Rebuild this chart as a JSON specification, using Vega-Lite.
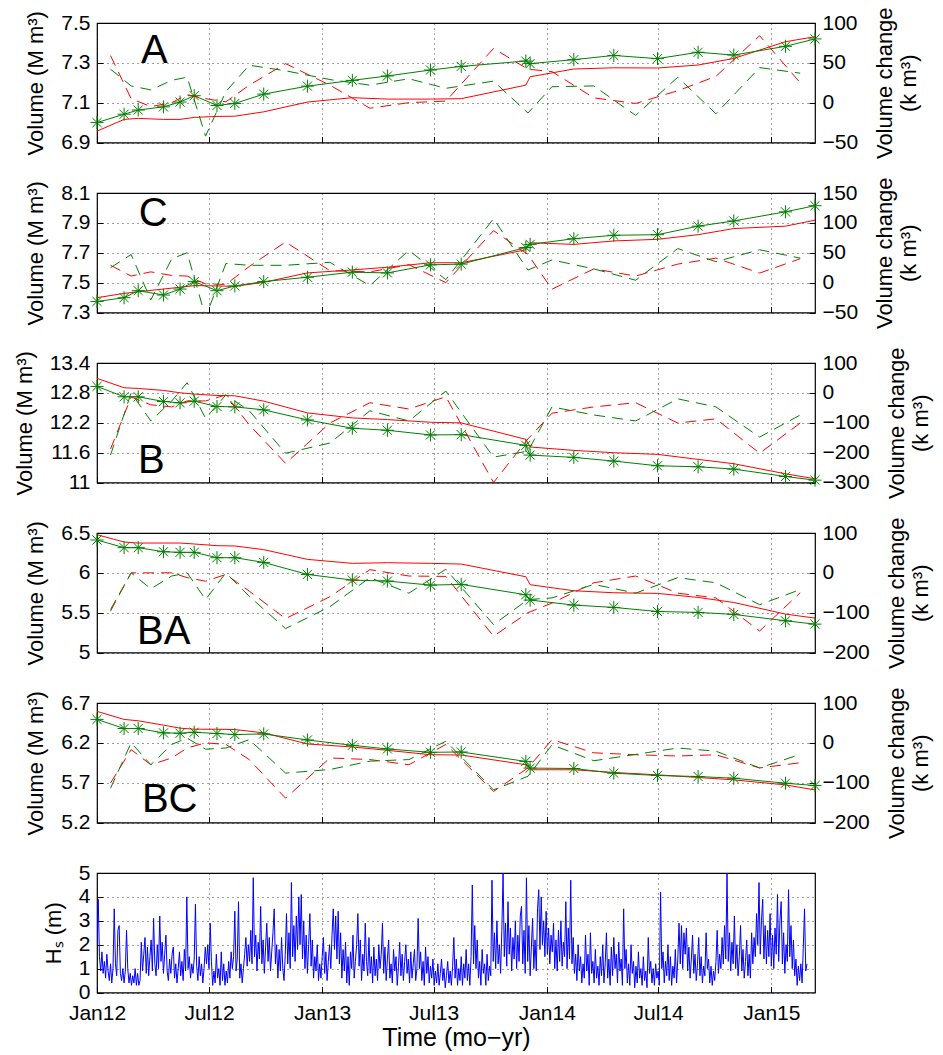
{
"$schema":"https://vega.github.io/schema/vega-lite/v6.json",
"background":"white",
"padding":{"left":12,"top":6,"right":5,"bottom":5},
"config":{"font":"Liberation Sans","view":{"stroke":"#000","strokeWidth":1.2},
"axis":{"labelFont":"Liberation Sans","titleFont":"Liberation Sans","labelFontSize":21,"titleFontSize":22,"titleFontWeight":"normal","labelColor":"#000","titleColor":"#000","ticks":true,"tickSize":-6,"tickColor":"#000","tickWidth":1,"domain":false,"gridDash":[1,4],"gridColor":"#000","gridOpacity":0.75,"labelPadding":13,"titlePadding":13,"labelFlush":false,"labelOverlap":false,"tickCount":20}},
"datasets":{
"vol":[
{"p":"A","day":0,"g":7.000,"r":6.957},{"p":"A","day":44,"g":7.042,"r":7.016},{"p":"A","day":67,"g":7.063,"r":7.021},{"p":"A","day":108,"g":7.079,"r":7.016},{"p":"A","day":135,"g":7.103,"r":7.016},{"p":"A","day":158,"g":7.135,"r":7.026},{"p":"A","day":195,"g":7.086,"r":7.031},{"p":"A","day":224,"g":7.096,"r":7.032},{"p":"A","day":271,"g":7.143,"r":7.054},{"p":"A","day":342,"g":7.183,"r":7.103},{"p":"A","day":415,"g":7.212,"r":7.125},{"p":"A","day":472,"g":7.234,"r":7.118},{"p":"A","day":542,"g":7.264,"r":7.118},{"p":"A","day":592,"g":7.282,"r":7.120},{"p":"A","day":697,"g":7.309,"r":7.188},{"p":"A","day":704,"g":7.296,"r":7.230},{"p":"A","day":775,"g":7.316,"r":7.269},{"p":"A","day":840,"g":7.337,"r":7.275},{"p":"A","day":911,"g":7.321,"r":7.274},{"p":"A","day":977,"g":7.353,"r":7.289},{"p":"A","day":1035,"g":7.339,"r":7.322},{"p":"A","day":1119,"g":7.383,"r":7.406},{"p":"A","day":1167,"g":7.420,"r":7.431},
{"p":"C","day":0,"g":7.374,"r":7.399},{"p":"C","day":44,"g":7.399,"r":7.428},{"p":"C","day":67,"g":7.446,"r":7.439},{"p":"C","day":108,"g":7.417,"r":7.457},{"p":"C","day":135,"g":7.457,"r":7.469},{"p":"C","day":158,"g":7.507,"r":7.480},{"p":"C","day":195,"g":7.446,"r":7.478},{"p":"C","day":224,"g":7.478,"r":7.475},{"p":"C","day":271,"g":7.507,"r":7.502},{"p":"C","day":342,"g":7.536,"r":7.565},{"p":"C","day":415,"g":7.570,"r":7.585},{"p":"C","day":472,"g":7.565,"r":7.603},{"p":"C","day":542,"g":7.619,"r":7.633},{"p":"C","day":592,"g":7.624,"r":7.633},{"p":"C","day":697,"g":7.735,"r":7.720},{"p":"C","day":704,"g":7.756,"r":7.767},{"p":"C","day":775,"g":7.794,"r":7.756},{"p":"C","day":840,"g":7.817,"r":7.779},{"p":"C","day":911,"g":7.821,"r":7.790},{"p":"C","day":977,"g":7.878,"r":7.821},{"p":"C","day":1035,"g":7.913,"r":7.862},{"p":"C","day":1119,"g":7.974,"r":7.878},{"p":"C","day":1167,"g":8.015,"r":7.918},
{"p":"B","day":0,"g":12.929,"r":13.091},{"p":"B","day":44,"g":12.721,"r":12.903},{"p":"B","day":67,"g":12.721,"r":12.889},{"p":"B","day":108,"g":12.627,"r":12.849},{"p":"B","day":135,"g":12.600,"r":12.802},{"p":"B","day":158,"g":12.634,"r":12.775},{"p":"B","day":195,"g":12.526,"r":12.748},{"p":"B","day":224,"g":12.519,"r":12.741},{"p":"B","day":271,"g":12.459,"r":12.634},{"p":"B","day":342,"g":12.257,"r":12.398},{"p":"B","day":415,"g":12.089,"r":12.297},{"p":"B","day":472,"g":12.049,"r":12.264},{"p":"B","day":542,"g":11.955,"r":12.210},{"p":"B","day":592,"g":11.961,"r":12.197},{"p":"B","day":697,"g":11.746,"r":11.867},{"p":"B","day":704,"g":11.551,"r":11.713},{"p":"B","day":775,"g":11.504,"r":11.645},{"p":"B","day":840,"g":11.430,"r":11.598},{"p":"B","day":911,"g":11.336,"r":11.565},{"p":"B","day":977,"g":11.316,"r":11.464},{"p":"B","day":1035,"g":11.269,"r":11.377},{"p":"B","day":1119,"g":11.121,"r":11.175},{"p":"B","day":1167,"g":11.047,"r":11.074},
{"p":"BA","day":0,"g":6.412,"r":6.479},{"p":"BA","day":44,"g":6.316,"r":6.387},{"p":"BA","day":67,"g":6.316,"r":6.374},{"p":"BA","day":108,"g":6.265,"r":6.374},{"p":"BA","day":135,"g":6.257,"r":6.374},{"p":"BA","day":158,"g":6.257,"r":6.362},{"p":"BA","day":195,"g":6.190,"r":6.341},{"p":"BA","day":224,"g":6.190,"r":6.337},{"p":"BA","day":271,"g":6.131,"r":6.291},{"p":"BA","day":342,"g":5.980,"r":6.169},{"p":"BA","day":415,"g":5.909,"r":6.119},{"p":"BA","day":472,"g":5.897,"r":6.127},{"p":"BA","day":542,"g":5.846,"r":6.119},{"p":"BA","day":592,"g":5.855,"r":6.110},{"p":"BA","day":697,"g":5.725,"r":5.951},{"p":"BA","day":704,"g":5.658,"r":5.851},{"p":"BA","day":775,"g":5.595,"r":5.775},{"p":"BA","day":840,"g":5.566,"r":5.750},{"p":"BA","day":911,"g":5.515,"r":5.742},{"p":"BA","day":977,"g":5.503,"r":5.691},{"p":"BA","day":1035,"g":5.478,"r":5.628},{"p":"BA","day":1119,"g":5.398,"r":5.482},{"p":"BA","day":1167,"g":5.356,"r":5.432},
{"p":"BC","day":0,"g":6.494,"r":6.595},{"p":"BC","day":44,"g":6.380,"r":6.494},{"p":"BC","day":67,"g":6.380,"r":6.477},{"p":"BC","day":108,"g":6.325,"r":6.422},{"p":"BC","day":135,"g":6.321,"r":6.384},{"p":"BC","day":158,"g":6.333,"r":6.371},{"p":"BC","day":195,"g":6.317,"r":6.371},{"p":"BC","day":224,"g":6.304,"r":6.367},{"p":"BC","day":271,"g":6.312,"r":6.325},{"p":"BC","day":342,"g":6.236,"r":6.186},{"p":"BC","day":415,"g":6.169,"r":6.148},{"p":"BC","day":472,"g":6.123,"r":6.106},{"p":"BC","day":542,"g":6.081,"r":6.051},{"p":"BC","day":592,"g":6.085,"r":6.047},{"p":"BC","day":697,"g":5.967,"r":5.925},{"p":"BC","day":704,"g":5.883,"r":5.862},{"p":"BC","day":775,"g":5.878,"r":5.862},{"p":"BC","day":840,"g":5.819,"r":5.828},{"p":"BC","day":911,"g":5.790,"r":5.798},{"p":"BC","day":977,"g":5.777,"r":5.765},{"p":"BC","day":1035,"g":5.756,"r":5.735},{"p":"BC","day":1119,"g":5.693,"r":5.672},{"p":"BC","day":1167,"g":5.664,"r":5.609}
],
"chg":[
{"p":"A","day":22,"g":42,"r":59},{"p":"A","day":55.5,"g":21,"r":5},{"p":"A","day":87.5,"g":16,"r":-5},{"p":"A","day":121.5,"g":28,"r":0},{"p":"A","day":146.5,"g":32,"r":10},{"p":"A","day":176.5,"g":-42,"r":5},{"p":"A","day":209.5,"g":14,"r":1},{"p":"A","day":247.5,"g":47,"r":22},{"p":"A","day":306.5,"g":40,"r":49},{"p":"A","day":378.5,"g":29,"r":22},{"p":"A","day":443.5,"g":22,"r":-7},{"p":"A","day":507,"g":30,"r":0},{"p":"A","day":567,"g":18,"r":2},{"p":"A","day":644.5,"g":27,"r":68},{"p":"A","day":700.5,"g":-13,"r":42},{"p":"A","day":739.5,"g":20,"r":39},{"p":"A","day":807.5,"g":21,"r":6},{"p":"A","day":875.5,"g":-16,"r":-1},{"p":"A","day":944,"g":32,"r":15},{"p":"A","day":1006,"g":-14,"r":33},{"p":"A","day":1077,"g":44,"r":84},{"p":"A","day":1143,"g":37,"r":25},
{"p":"C","day":22,"g":25,"r":29},{"p":"C","day":55.5,"g":47,"r":11},{"p":"C","day":87.5,"g":-29,"r":18},{"p":"C","day":121.5,"g":40,"r":12},{"p":"C","day":146.5,"g":50,"r":11},{"p":"C","day":176.5,"g":-58,"r":-2},{"p":"C","day":209.5,"g":32,"r":-3},{"p":"C","day":247.5,"g":29,"r":27},{"p":"C","day":306.5,"g":29,"r":68},{"p":"C","day":378.5,"g":34,"r":20},{"p":"C","day":443.5,"g":-5,"r":18},{"p":"C","day":507,"g":54,"r":30},{"p":"C","day":567,"g":5,"r":0},{"p":"C","day":644.5,"g":107,"r":87},{"p":"C","day":700.5,"g":21,"r":47},{"p":"C","day":739.5,"g":38,"r":-11},{"p":"C","day":807.5,"g":23,"r":23},{"p":"C","day":875.5,"g":4,"r":11},{"p":"C","day":944,"g":57,"r":31},{"p":"C","day":1006,"g":35,"r":41},{"p":"C","day":1077,"g":55,"r":16},{"p":"C","day":1143,"g":41,"r":40},
{"p":"B","day":22,"g":-208,"r":-188},{"p":"B","day":55.5,"g":0,"r":-14},{"p":"B","day":87.5,"g":-94,"r":-40},{"p":"B","day":121.5,"g":-27,"r":-47},{"p":"B","day":146.5,"g":34,"r":-27},{"p":"B","day":176.5,"g":-85,"r":-27},{"p":"B","day":209.5,"g":-7,"r":-7},{"p":"B","day":247.5,"g":-60,"r":-107},{"p":"B","day":306.5,"g":-202,"r":-236},{"p":"B","day":378.5,"g":-168,"r":-101},{"p":"B","day":443.5,"g":-60,"r":-33},{"p":"B","day":507,"g":-94,"r":-54},{"p":"B","day":567,"g":6,"r":-13},{"p":"B","day":644.5,"g":-215,"r":-300},{"p":"B","day":700.5,"g":-195,"r":-154},{"p":"B","day":739.5,"g":-47,"r":-68},{"p":"B","day":807.5,"g":-74,"r":-47},{"p":"B","day":875.5,"g":-94,"r":-33},{"p":"B","day":944,"g":-20,"r":-101},{"p":"B","day":1006,"g":-47,"r":-87},{"p":"B","day":1077,"g":-148,"r":-202},{"p":"B","day":1143,"g":-74,"r":-101},
{"p":"BA","day":22,"g":-96,"r":-92},{"p":"BA","day":55.5,"g":0,"r":0},{"p":"BA","day":87.5,"g":-40,"r":0},{"p":"BA","day":121.5,"g":-8,"r":0},{"p":"BA","day":146.5,"g":0,"r":-12},{"p":"BA","day":176.5,"g":-67,"r":-21},{"p":"BA","day":209.5,"g":0,"r":-4},{"p":"BA","day":247.5,"g":-59,"r":-46},{"p":"BA","day":306.5,"g":-140,"r":-115},{"p":"BA","day":378.5,"g":-85,"r":-60},{"p":"BA","day":443.5,"g":-12,"r":8},{"p":"BA","day":507,"g":-51,"r":-8},{"p":"BA","day":567,"g":9,"r":-9},{"p":"BA","day":644.5,"g":-130,"r":-159},{"p":"BA","day":700.5,"g":-67,"r":-100},{"p":"BA","day":739.5,"g":-63,"r":-76},{"p":"BA","day":807.5,"g":-29,"r":-25},{"p":"BA","day":875.5,"g":-51,"r":-8},{"p":"BA","day":944,"g":-12,"r":-51},{"p":"BA","day":1006,"g":-25,"r":-63},{"p":"BA","day":1077,"g":-80,"r":-146},{"p":"BA","day":1143,"g":-42,"r":-50},
{"p":"BC","day":22,"g":-114,"r":-101},{"p":"BC","day":55.5,"g":0,"r":-17},{"p":"BC","day":87.5,"g":-55,"r":-55},{"p":"BC","day":121.5,"g":-4,"r":-38},{"p":"BC","day":146.5,"g":12,"r":-13},{"p":"BC","day":176.5,"g":-16,"r":0},{"p":"BC","day":209.5,"g":-13,"r":-4},{"p":"BC","day":247.5,"g":8,"r":-42},{"p":"BC","day":306.5,"g":-76,"r":-139},{"p":"BC","day":378.5,"g":-67,"r":-38},{"p":"BC","day":443.5,"g":-46,"r":-42},{"p":"BC","day":507,"g":-42,"r":-55},{"p":"BC","day":567,"g":4,"r":-4},{"p":"BC","day":644.5,"g":-118,"r":-122},{"p":"BC","day":700.5,"g":-84,"r":-63},{"p":"BC","day":739.5,"g":-5,"r":8},{"p":"BC","day":807.5,"g":-45,"r":-25},{"p":"BC","day":875.5,"g":-29,"r":-30},{"p":"BC","day":944,"g":-13,"r":-33},{"p":"BC","day":1006,"g":-21,"r":-30},{"p":"BC","day":1077,"g":-63,"r":-63},{"p":"BC","day":1143,"g":-29,"r":-50}
],
"hs":[
{"d":0,"h":2.0},{"d":2,"h":3.9},{"d":4,"h":1.5},{"d":6,"h":0.9},{"d":8,"h":1.7},{"d":10,"h":0.8},{"d":12,"h":1.3},{"d":14,"h":0.6},{"d":16,"h":1.6},{"d":18,"h":0.9},
{"d":20,"h":0.5},{"d":22,"h":1.2},{"d":24,"h":0.4},{"d":26,"h":1.0},{"d":28,"h":3.5},{"d":30,"h":1.2},{"d":32,"h":0.7},{"d":34,"h":2.6},{"d":36,"h":2.8},{"d":38,"h":0.8},
{"d":40,"h":0.5},{"d":42,"h":1.0},{"d":44,"h":0.4},{"d":46,"h":0.9},{"d":48,"h":2.6},{"d":50,"h":1.0},{"d":52,"h":0.4},{"d":54,"h":0.8},{"d":56,"h":0.3},{"d":58,"h":0.7},
{"d":60,"h":0.4},{"d":62,"h":1.0},{"d":64,"h":0.3},{"d":66,"h":0.8},{"d":68,"h":0.3},{"d":70,"h":0.5},{"d":72,"h":2.1},{"d":74,"h":0.9},{"d":76,"h":1.6},{"d":78,"h":2.3},
{"d":80,"h":0.8},{"d":82,"h":1.9},{"d":84,"h":0.7},{"d":86,"h":1.5},{"d":88,"h":2.2},{"d":90,"h":0.9},{"d":92,"h":3.1},{"d":94,"h":1.2},{"d":96,"h":0.7},{"d":98,"h":2.0},
{"d":100,"h":1.0},{"d":102,"h":3.2},{"d":104,"h":1.3},{"d":106,"h":2.1},{"d":108,"h":0.8},{"d":110,"h":1.6},{"d":112,"h":2.4},{"d":114,"h":0.9},{"d":116,"h":0.5},{"d":118,"h":1.4},
{"d":120,"h":0.8},{"d":122,"h":1.6},{"d":124,"h":1.9},{"d":126,"h":0.6},{"d":128,"h":1.2},{"d":130,"h":0.4},{"d":132,"h":1.0},{"d":134,"h":1.7},{"d":136,"h":0.7},{"d":138,"h":1.3},
{"d":140,"h":0.5},{"d":142,"h":1.8},{"d":144,"h":0.9},{"d":146,"h":4.0},{"d":148,"h":1.0},{"d":150,"h":1.5},{"d":152,"h":0.6},{"d":154,"h":1.2},{"d":156,"h":0.8},{"d":158,"h":1.4},
{"d":160,"h":3.7},{"d":162,"h":1.1},{"d":164,"h":0.5},{"d":166,"h":1.5},{"d":168,"h":0.7},{"d":170,"h":1.2},{"d":172,"h":0.4},{"d":174,"h":1.0},{"d":176,"h":1.9},{"d":178,"h":1.2},
{"d":180,"h":2.0},{"d":182,"h":1.0},{"d":184,"h":2.9},{"d":186,"h":1.3},{"d":188,"h":0.3},{"d":190,"h":0.9},{"d":192,"h":0.4},{"d":194,"h":1.6},{"d":196,"h":0.6},{"d":198,"h":1.0},
{"d":200,"h":0.3},{"d":202,"h":1.7},{"d":204,"h":0.5},{"d":206,"h":1.2},{"d":208,"h":0.3},{"d":210,"h":0.9},{"d":212,"h":0.4},{"d":214,"h":1.3},{"d":216,"h":0.6},{"d":218,"h":1.7},
{"d":220,"h":1.0},{"d":222,"h":1.5},{"d":224,"h":3.4},{"d":226,"h":0.9},{"d":228,"h":1.4},{"d":230,"h":3.8},{"d":232,"h":0.6},{"d":234,"h":1.2},{"d":236,"h":0.4},{"d":238,"h":1.0},
{"d":240,"h":1.6},{"d":242,"h":2.3},{"d":244,"h":1.1},{"d":246,"h":2.0},{"d":248,"h":1.3},{"d":250,"h":2.6},{"d":252,"h":1.2},{"d":254,"h":4.8},{"d":256,"h":1.5},{"d":258,"h":2.4},
{"d":260,"h":0.9},{"d":262,"h":2.1},{"d":264,"h":1.4},{"d":266,"h":3.6},{"d":268,"h":1.2},{"d":270,"h":2.2},{"d":272,"h":0.8},{"d":274,"h":1.9},{"d":276,"h":2.9},{"d":278,"h":1.3},
{"d":280,"h":2.3},{"d":282,"h":0.9},{"d":284,"h":1.7},{"d":286,"h":2.5},{"d":288,"h":3.5},{"d":290,"h":1.2},{"d":292,"h":2.0},{"d":294,"h":0.6},{"d":296,"h":1.8},{"d":298,"h":0.9},
{"d":300,"h":2.3},{"d":302,"h":1.0},{"d":304,"h":0.5},{"d":306,"h":1.6},{"d":308,"h":3.3},{"d":310,"h":1.2},{"d":312,"h":2.5},{"d":314,"h":1.0},{"d":316,"h":4.6},{"d":318,"h":1.5},
{"d":320,"h":2.8},{"d":322,"h":1.3},{"d":324,"h":3.2},{"d":326,"h":1.8},{"d":328,"h":4.0},{"d":330,"h":2.0},{"d":332,"h":4.1},{"d":334,"h":1.4},{"d":336,"h":3.0},{"d":338,"h":1.0},
{"d":340,"h":2.4},{"d":342,"h":0.8},{"d":344,"h":2.0},{"d":346,"h":3.3},{"d":348,"h":1.1},{"d":350,"h":2.2},{"d":352,"h":0.6},{"d":354,"h":1.5},{"d":356,"h":0.9},{"d":358,"h":2.0},
{"d":360,"h":0.5},{"d":362,"h":1.2},{"d":364,"h":0.6},{"d":366,"h":1.5},{"d":368,"h":2.3},{"d":370,"h":0.8},{"d":372,"h":1.7},{"d":374,"h":0.5},{"d":376,"h":1.3},{"d":378,"h":2.0},
{"d":380,"h":1.0},{"d":382,"h":2.4},{"d":384,"h":3.5},{"d":386,"h":1.8},{"d":388,"h":3.2},{"d":390,"h":1.4},{"d":392,"h":3.4},{"d":394,"h":1.2},{"d":396,"h":2.5},{"d":398,"h":0.6},
{"d":400,"h":1.8},{"d":402,"h":0.9},{"d":404,"h":2.1},{"d":406,"h":0.4},{"d":408,"h":1.5},{"d":410,"h":0.3},{"d":412,"h":1.7},{"d":414,"h":1.0},{"d":416,"h":2.4},{"d":418,"h":0.6},
{"d":420,"h":1.3},{"d":422,"h":2.0},{"d":424,"h":3.3},{"d":426,"h":1.1},{"d":428,"h":2.2},{"d":430,"h":0.5},{"d":432,"h":1.6},{"d":434,"h":0.9},{"d":436,"h":2.9},{"d":438,"h":1.3},
{"d":440,"h":0.7},{"d":442,"h":2.3},{"d":444,"h":0.8},{"d":446,"h":1.5},{"d":448,"h":0.4},{"d":450,"h":1.9},{"d":452,"h":0.7},{"d":454,"h":1.4},{"d":456,"h":0.5},{"d":458,"h":2.0},
{"d":460,"h":1.0},{"d":462,"h":1.6},{"d":464,"h":2.9},{"d":466,"h":0.8},{"d":468,"h":1.9},{"d":470,"h":0.5},{"d":472,"h":1.4},{"d":474,"h":2.2},{"d":476,"h":0.6},{"d":478,"h":1.2},
{"d":480,"h":0.4},{"d":482,"h":1.8},{"d":484,"h":0.9},{"d":486,"h":1.5},{"d":488,"h":0.3},{"d":490,"h":1.1},{"d":492,"h":2.1},{"d":494,"h":0.7},{"d":496,"h":1.6},{"d":498,"h":0.5},
{"d":500,"h":1.3},{"d":502,"h":2.0},{"d":504,"h":0.8},{"d":506,"h":1.4},{"d":508,"h":0.4},{"d":510,"h":1.7},{"d":512,"h":0.6},{"d":514,"h":1.2},{"d":516,"h":1.8},{"d":518,"h":0.5},
{"d":520,"h":1.0},{"d":522,"h":3.1},{"d":524,"h":1.0},{"d":526,"h":1.7},{"d":528,"h":0.5},{"d":530,"h":1.3},{"d":532,"h":0.3},{"d":534,"h":1.9},{"d":536,"h":0.8},{"d":538,"h":1.5},
{"d":540,"h":0.4},{"d":542,"h":1.1},{"d":544,"h":0.6},{"d":546,"h":1.4},{"d":548,"h":0.3},{"d":550,"h":0.9},{"d":552,"h":0.4},{"d":554,"h":1.2},{"d":556,"h":0.3},{"d":558,"h":0.8},
{"d":560,"h":1.4},{"d":562,"h":0.5},{"d":564,"h":1.0},{"d":566,"h":0.2},{"d":568,"h":0.7},{"d":570,"h":1.3},{"d":572,"h":0.4},{"d":574,"h":0.9},{"d":576,"h":0.3},{"d":578,"h":1.1},
{"d":580,"h":2.3},{"d":582,"h":0.6},{"d":584,"h":1.4},{"d":586,"h":0.3},{"d":588,"h":1.0},{"d":590,"h":0.5},{"d":592,"h":1.5},{"d":594,"h":0.3},{"d":596,"h":1.2},{"d":598,"h":0.6},
{"d":600,"h":1.8},{"d":602,"h":0.5},{"d":604,"h":1.2},{"d":606,"h":0.3},{"d":608,"h":1.5},{"d":610,"h":4.5},{"d":612,"h":1.2},{"d":614,"h":2.8},{"d":616,"h":1.0},{"d":618,"h":2.2},
{"d":620,"h":0.6},{"d":622,"h":1.3},{"d":624,"h":0.3},{"d":626,"h":1.8},{"d":628,"h":0.8},{"d":630,"h":1.2},{"d":632,"h":0.3},{"d":634,"h":1.6},{"d":636,"h":0.5},{"d":638,"h":1.1},
{"d":640,"h":0.7},{"d":642,"h":4.7},{"d":644,"h":1.3},{"d":646,"h":2.5},{"d":648,"h":1.0},{"d":650,"h":3.0},{"d":652,"h":1.2},{"d":654,"h":2.0},{"d":656,"h":0.8},{"d":658,"h":2.6},
{"d":660,"h":5.0},{"d":662,"h":1.5},{"d":664,"h":2.9},{"d":666,"h":1.1},{"d":668,"h":3.8},{"d":670,"h":1.6},{"d":672,"h":2.7},{"d":674,"h":0.9},{"d":676,"h":2.3},{"d":678,"h":1.4},
{"d":680,"h":3.0},{"d":682,"h":1.0},{"d":684,"h":2.4},{"d":686,"h":1.3},{"d":688,"h":3.2},{"d":690,"h":3.6},{"d":692,"h":1.2},{"d":694,"h":2.6},{"d":696,"h":0.8},{"d":698,"h":4.8},
{"d":700,"h":1.3},{"d":702,"h":2.8},{"d":704,"h":0.7},{"d":706,"h":1.9},{"d":708,"h":3.1},{"d":710,"h":1.0},{"d":712,"h":2.2},{"d":714,"h":0.9},{"d":716,"h":3.5},{"d":718,"h":4.3},
{"d":720,"h":1.8},{"d":722,"h":4.0},{"d":724,"h":2.0},{"d":726,"h":3.0},{"d":728,"h":1.5},{"d":730,"h":3.4},{"d":732,"h":1.6},{"d":734,"h":2.7},{"d":736,"h":1.2},{"d":738,"h":2.4},
{"d":740,"h":1.7},{"d":742,"h":2.9},{"d":744,"h":1.0},{"d":746,"h":2.2},{"d":748,"h":0.9},{"d":750,"h":2.6},{"d":752,"h":1.3},{"d":754,"h":3.0},{"d":756,"h":1.1},{"d":758,"h":2.1},
{"d":760,"h":1.5},{"d":762,"h":3.8},{"d":764,"h":1.0},{"d":766,"h":2.7},{"d":768,"h":1.4},{"d":770,"h":4.7},{"d":772,"h":1.2},{"d":774,"h":2.3},{"d":776,"h":0.8},{"d":778,"h":1.6},
{"d":780,"h":0.5},{"d":782,"h":2.0},{"d":784,"h":0.9},{"d":786,"h":1.5},{"d":788,"h":0.4},{"d":790,"h":1.2},{"d":792,"h":0.6},{"d":794,"h":2.4},{"d":796,"h":0.9},{"d":798,"h":1.6},
{"d":800,"h":0.3},{"d":802,"h":2.5},{"d":804,"h":0.8},{"d":806,"h":1.3},{"d":808,"h":0.4},{"d":810,"h":1.8},{"d":812,"h":0.6},{"d":814,"h":1.1},{"d":816,"h":0.3},{"d":818,"h":1.5},
{"d":820,"h":0.7},{"d":822,"h":2.0},{"d":824,"h":0.4},{"d":826,"h":1.2},{"d":828,"h":2.5},{"d":830,"h":0.6},{"d":832,"h":1.4},{"d":834,"h":0.3},{"d":836,"h":1.9},{"d":838,"h":0.7},
{"d":840,"h":2.3},{"d":842,"h":1.0},{"d":844,"h":1.6},{"d":846,"h":0.4},{"d":848,"h":2.1},{"d":850,"h":0.9},{"d":852,"h":1.4},{"d":854,"h":0.3},{"d":856,"h":3.5},{"d":858,"h":1.0},
{"d":860,"h":1.8},{"d":862,"h":0.4},{"d":864,"h":1.2},{"d":866,"h":0.3},{"d":868,"h":2.0},{"d":870,"h":0.8},{"d":872,"h":1.3},{"d":874,"h":0.2},{"d":876,"h":1.1},{"d":878,"h":0.4},
{"d":880,"h":1.7},{"d":882,"h":0.6},{"d":884,"h":1.0},{"d":886,"h":0.3},{"d":888,"h":1.5},{"d":890,"h":0.5},{"d":892,"h":0.9},{"d":894,"h":0.2},{"d":896,"h":2.3},{"d":898,"h":0.8},
{"d":900,"h":1.3},{"d":902,"h":0.4},{"d":904,"h":1.0},{"d":906,"h":0.3},{"d":908,"h":1.2},{"d":910,"h":0.6},{"d":912,"h":0.9},{"d":914,"h":0.3},{"d":916,"h":4.2},{"d":918,"h":1.0},
{"d":920,"h":1.7},{"d":922,"h":0.4},{"d":924,"h":1.3},{"d":926,"h":0.7},{"d":928,"h":2.0},{"d":930,"h":0.5},{"d":932,"h":1.5},{"d":934,"h":0.3},{"d":936,"h":1.1},{"d":938,"h":0.6},
{"d":940,"h":1.8},{"d":942,"h":0.4},{"d":944,"h":1.4},{"d":946,"h":2.9},{"d":948,"h":1.2},{"d":950,"h":2.8},{"d":952,"h":1.0},{"d":954,"h":2.5},{"d":956,"h":1.6},{"d":958,"h":2.7},
{"d":960,"h":0.9},{"d":962,"h":1.9},{"d":964,"h":0.6},{"d":966,"h":1.4},{"d":968,"h":2.4},{"d":970,"h":0.8},{"d":972,"h":1.6},{"d":974,"h":0.5},{"d":976,"h":1.2},{"d":978,"h":2.3},
{"d":980,"h":0.7},{"d":982,"h":1.5},{"d":984,"h":0.4},{"d":986,"h":1.1},{"d":988,"h":0.7},{"d":990,"h":2.5},{"d":992,"h":1.0},{"d":994,"h":1.4},{"d":996,"h":0.4},{"d":998,"h":1.1},
{"d":1000,"h":0.3},{"d":1002,"h":0.9},{"d":1004,"h":0.5},{"d":1006,"h":1.3},{"d":1008,"h":2.6},{"d":1010,"h":0.8},{"d":1012,"h":1.6},{"d":1014,"h":1.0},{"d":1016,"h":2.3},{"d":1018,"h":1.2},
{"d":1020,"h":2.8},{"d":1022,"h":1.4},{"d":1024,"h":5.0},{"d":1026,"h":1.3},{"d":1028,"h":2.5},{"d":1030,"h":0.9},{"d":1032,"h":2.1},{"d":1034,"h":1.2},{"d":1036,"h":3.2},{"d":1038,"h":1.0},
{"d":1040,"h":2.0},{"d":1042,"h":0.7},{"d":1044,"h":1.5},{"d":1046,"h":2.8},{"d":1048,"h":0.9},{"d":1050,"h":1.8},{"d":1052,"h":0.6},{"d":1054,"h":1.3},{"d":1056,"h":2.2},{"d":1058,"h":0.7},
{"d":1060,"h":1.6},{"d":1062,"h":0.6},{"d":1064,"h":2.5},{"d":1066,"h":1.2},{"d":1068,"h":2.3},{"d":1070,"h":1.5},{"d":1072,"h":3.3},{"d":1074,"h":2.0},{"d":1076,"h":4.6},{"d":1078,"h":1.6},
{"d":1080,"h":3.0},{"d":1082,"h":3.9},{"d":1084,"h":1.4},{"d":1086,"h":2.8},{"d":1088,"h":1.2},{"d":1090,"h":2.6},{"d":1092,"h":1.5},{"d":1094,"h":3.3},{"d":1096,"h":1.1},{"d":1098,"h":2.4},
{"d":1100,"h":1.0},{"d":1102,"h":2.7},{"d":1104,"h":1.6},{"d":1106,"h":4.1},{"d":1108,"h":1.3},{"d":1110,"h":3.0},{"d":1112,"h":3.8},{"d":1114,"h":1.2},{"d":1116,"h":2.5},{"d":1118,"h":0.8},
{"d":1120,"h":2.0},{"d":1122,"h":1.3},{"d":1124,"h":4.3},{"d":1126,"h":1.5},{"d":1128,"h":2.8},{"d":1130,"h":1.0},{"d":1132,"h":2.2},{"d":1134,"h":0.7},{"d":1136,"h":1.4},{"d":1138,"h":0.3},
{"d":1140,"h":1.1},{"d":1142,"h":0.5},{"d":1144,"h":1.2},{"d":1146,"h":0.4},{"d":1148,"h":1.9},{"d":1150,"h":3.5},{"d":1152,"h":0.9},{"d":1154,"h":1.2}
]
},
"spacing":50,
"bounds":"flush",
"resolve":{"scale":{"x":"independent","y":"independent"}},
"vconcat":[
{"width":718,"height":119.5,"resolve":{"scale":{"y":"independent"}},
"layer":[
{"data":{"name":"vol"},"transform":[{"filter":"datum.p==='A'"}],
"layer":[
{"mark":{"type":"line","color":"#ff0000","strokeWidth":1,"clip":true},"encoding":{"x":{"field":"day","type":"quantitative","scale":{"domain":[0,1167],"nice":false,"zero":false},"axis":{"values":[0,182,366,547,731,912,1096],"labels":false,"grid":true,"title":null,"tickCount":20}},"y":{"field":"r","type":"quantitative","scale":{"domain":[6.9,7.5],"nice":false,"zero":false},"axis":{"title":"Volume (M m³)","values":[6.9,7.1,7.3,7.5],"labelExpr":"''+datum.value","grid":true,"tickCount":20,"labelOverlap":false}}}},
{"mark":{"type":"line","color":"#008000","strokeWidth":1,"clip":true},"encoding":{"x":{"field":"day","type":"quantitative"},"y":{"field":"g","type":"quantitative"}}},
{"mark":{"type":"point","shape":"M-1,0L1,0M0,-1L0,1M-0.7,-0.7L0.7,0.7M-0.7,0.7L0.7,-0.7","filled":false,"color":"#008000","strokeWidth":1,"size":170,"opacity":1},"encoding":{"x":{"field":"day","type":"quantitative"},"y":{"field":"g","type":"quantitative"}}},
{"data":{"values":[{}]},"mark":{"type":"text","text":"A","fontSize":40,"align":"left","baseline":"alphabetic","color":"#000","font":"Liberation Sans"},"encoding":{"x":{"datum":71.5,"type":"quantitative"},"y":{"datum":7.299,"type":"quantitative"}}}
]},
{"data":{"name":"chg"},"transform":[{"filter":"datum.p==='A'"}],
"layer":[
{"mark":{"type":"line","color":"#ff0000","strokeWidth":1,"strokeDash":[11,7],"clip":true},"encoding":{"x":{"field":"day","type":"quantitative"},"y":{"field":"r","type":"quantitative","scale":{"domain":[-50,100],"nice":false,"zero":false},"axis":{"orient":"right","title":["Volume change","(k m³)"],"titleAngle":270,"titleBaseline":"top","titlePadding":-7,"values":[-50,0,50,100],"format":"d","grid":false,"tickCount":20,"labelOverlap":false}}}},
{"mark":{"type":"line","color":"#008000","strokeWidth":1,"strokeDash":[11,7],"clip":true},"encoding":{"x":{"field":"day","type":"quantitative"},"y":{"field":"g","type":"quantitative"}}}
]}
]},
{"width":718,"height":119.5,"resolve":{"scale":{"y":"independent"}},
"layer":[
{"data":{"name":"vol"},"transform":[{"filter":"datum.p==='C'"}],
"layer":[
{"mark":{"type":"line","color":"#ff0000","strokeWidth":1,"clip":true},"encoding":{"x":{"field":"day","type":"quantitative","scale":{"domain":[0,1167],"nice":false,"zero":false},"axis":{"values":[0,182,366,547,731,912,1096],"labels":false,"grid":true,"title":null,"tickCount":20}},"y":{"field":"r","type":"quantitative","scale":{"domain":[7.3,8.1],"nice":false,"zero":false},"axis":{"title":"Volume (M m³)","values":[7.3,7.5,7.7,7.9,8.1],"labelExpr":"''+datum.value","grid":true,"tickCount":20,"labelOverlap":false}}}},
{"mark":{"type":"line","color":"#008000","strokeWidth":1,"clip":true},"encoding":{"x":{"field":"day","type":"quantitative"},"y":{"field":"g","type":"quantitative"}}},
{"mark":{"type":"point","shape":"M-1,0L1,0M0,-1L0,1M-0.7,-0.7L0.7,0.7M-0.7,0.7L0.7,-0.7","filled":false,"color":"#008000","strokeWidth":1,"size":170,"opacity":1},"encoding":{"x":{"field":"day","type":"quantitative"},"y":{"field":"g","type":"quantitative"}}},
{"data":{"values":[{}]},"mark":{"type":"text","text":"C","fontSize":40,"align":"left","baseline":"alphabetic","color":"#000","font":"Liberation Sans"},"encoding":{"x":{"datum":68,"type":"quantitative"},"y":{"datum":7.881,"type":"quantitative"}}}
]},
{"data":{"name":"chg"},"transform":[{"filter":"datum.p==='C'"}],
"layer":[
{"mark":{"type":"line","color":"#ff0000","strokeWidth":1,"strokeDash":[11,7],"clip":true},"encoding":{"x":{"field":"day","type":"quantitative"},"y":{"field":"r","type":"quantitative","scale":{"domain":[-50,150],"nice":false,"zero":false},"axis":{"orient":"right","title":["Volume change","(k m³)"],"titleAngle":270,"titleBaseline":"top","titlePadding":-7,"values":[-50,0,50,100,150],"format":"d","grid":false,"tickCount":20,"labelOverlap":false}}}},
{"mark":{"type":"line","color":"#008000","strokeWidth":1,"strokeDash":[11,7],"clip":true},"encoding":{"x":{"field":"day","type":"quantitative"},"y":{"field":"g","type":"quantitative"}}}
]}
]},
{"width":718,"height":119.5,"resolve":{"scale":{"y":"independent"}},
"layer":[
{"data":{"name":"vol"},"transform":[{"filter":"datum.p==='B'"}],
"layer":[
{"mark":{"type":"line","color":"#ff0000","strokeWidth":1,"clip":true},"encoding":{"x":{"field":"day","type":"quantitative","scale":{"domain":[0,1167],"nice":false,"zero":false},"axis":{"values":[0,182,366,547,731,912,1096],"labels":false,"grid":true,"title":null,"tickCount":20}},"y":{"field":"r","type":"quantitative","scale":{"domain":[11,13.4],"nice":false,"zero":false},"axis":{"title":"Volume (M m³)","values":[11,11.6,12.2,12.8,13.4],"labelExpr":"''+datum.value","grid":true,"tickCount":20,"labelOverlap":false}}}},
{"mark":{"type":"line","color":"#008000","strokeWidth":1,"clip":true},"encoding":{"x":{"field":"day","type":"quantitative"},"y":{"field":"g","type":"quantitative"}}},
{"mark":{"type":"point","shape":"M-1,0L1,0M0,-1L0,1M-0.7,-0.7L0.7,0.7M-0.7,0.7L0.7,-0.7","filled":false,"color":"#008000","strokeWidth":1,"size":170,"opacity":1},"encoding":{"x":{"field":"day","type":"quantitative"},"y":{"field":"g","type":"quantitative"}}},
{"data":{"values":[{}]},"mark":{"type":"text","text":"B","fontSize":40,"align":"left","baseline":"alphabetic","color":"#000","font":"Liberation Sans"},"encoding":{"x":{"datum":66.6,"type":"quantitative"},"y":{"datum":11.194,"type":"quantitative"}}}
]},
{"data":{"name":"chg"},"transform":[{"filter":"datum.p==='B'"}],
"layer":[
{"mark":{"type":"line","color":"#ff0000","strokeWidth":1,"strokeDash":[11,7],"clip":true},"encoding":{"x":{"field":"day","type":"quantitative"},"y":{"field":"r","type":"quantitative","scale":{"domain":[-300,100],"nice":false,"zero":false},"axis":{"orient":"right","title":["Volume change","(k m³)"],"titleAngle":270,"titleBaseline":"top","titlePadding":-7,"values":[-300,-200,-100,0,100],"format":"d","grid":false,"tickCount":20,"labelOverlap":false}}}},
{"mark":{"type":"line","color":"#008000","strokeWidth":1,"strokeDash":[11,7],"clip":true},"encoding":{"x":{"field":"day","type":"quantitative"},"y":{"field":"g","type":"quantitative"}}}
]}
]},
{"width":718,"height":119.5,"resolve":{"scale":{"y":"independent"}},
"layer":[
{"data":{"name":"vol"},"transform":[{"filter":"datum.p==='BA'"}],
"layer":[
{"mark":{"type":"line","color":"#ff0000","strokeWidth":1,"clip":true},"encoding":{"x":{"field":"day","type":"quantitative","scale":{"domain":[0,1167],"nice":false,"zero":false},"axis":{"values":[0,182,366,547,731,912,1096],"labels":false,"grid":true,"title":null,"tickCount":20}},"y":{"field":"r","type":"quantitative","scale":{"domain":[5,6.5],"nice":false,"zero":false},"axis":{"title":"Volume (M m³)","values":[5,5.5,6,6.5],"labelExpr":"''+datum.value","grid":true,"tickCount":20,"labelOverlap":false}}}},
{"mark":{"type":"line","color":"#008000","strokeWidth":1,"clip":true},"encoding":{"x":{"field":"day","type":"quantitative"},"y":{"field":"g","type":"quantitative"}}},
{"mark":{"type":"point","shape":"M-1,0L1,0M0,-1L0,1M-0.7,-0.7L0.7,0.7M-0.7,0.7L0.7,-0.7","filled":false,"color":"#008000","strokeWidth":1,"size":170,"opacity":1},"encoding":{"x":{"field":"day","type":"quantitative"},"y":{"field":"g","type":"quantitative"}}},
{"data":{"values":[{}]},"mark":{"type":"text","text":"BA","fontSize":40,"align":"left","baseline":"alphabetic","color":"#000","font":"Liberation Sans"},"encoding":{"x":{"datum":65,"type":"quantitative"},"y":{"datum":5.109,"type":"quantitative"}}}
]},
{"data":{"name":"chg"},"transform":[{"filter":"datum.p==='BA'"}],
"layer":[
{"mark":{"type":"line","color":"#ff0000","strokeWidth":1,"strokeDash":[11,7],"clip":true},"encoding":{"x":{"field":"day","type":"quantitative"},"y":{"field":"r","type":"quantitative","scale":{"domain":[-200,100],"nice":false,"zero":false},"axis":{"orient":"right","title":["Volume change","(k m³)"],"titleAngle":270,"titleBaseline":"top","titlePadding":-7,"values":[-200,-100,0,100],"format":"d","grid":false,"tickCount":20,"labelOverlap":false}}}},
{"mark":{"type":"line","color":"#008000","strokeWidth":1,"strokeDash":[11,7],"clip":true},"encoding":{"x":{"field":"day","type":"quantitative"},"y":{"field":"g","type":"quantitative"}}}
]}
]},
{"width":718,"height":119.5,"resolve":{"scale":{"y":"independent"}},
"layer":[
{"data":{"name":"vol"},"transform":[{"filter":"datum.p==='BC'"}],
"layer":[
{"mark":{"type":"line","color":"#ff0000","strokeWidth":1,"clip":true},"encoding":{"x":{"field":"day","type":"quantitative","scale":{"domain":[0,1167],"nice":false,"zero":false},"axis":{"values":[0,182,366,547,731,912,1096],"labels":false,"grid":true,"title":null,"tickCount":20}},"y":{"field":"r","type":"quantitative","scale":{"domain":[5.2,6.7],"nice":false,"zero":false},"axis":{"title":"Volume (M m³)","values":[5.2,5.7,6.2,6.7],"labelExpr":"''+datum.value","grid":true,"tickCount":20,"labelOverlap":false}}}},
{"mark":{"type":"line","color":"#008000","strokeWidth":1,"clip":true},"encoding":{"x":{"field":"day","type":"quantitative"},"y":{"field":"g","type":"quantitative"}}},
{"mark":{"type":"point","shape":"M-1,0L1,0M0,-1L0,1M-0.7,-0.7L0.7,0.7M-0.7,0.7L0.7,-0.7","filled":false,"color":"#008000","strokeWidth":1,"size":170,"opacity":1},"encoding":{"x":{"field":"day","type":"quantitative"},"y":{"field":"g","type":"quantitative"}}},
{"data":{"values":[{}]},"mark":{"type":"text","text":"BC","fontSize":40,"align":"left","baseline":"alphabetic","color":"#000","font":"Liberation Sans"},"encoding":{"x":{"datum":73,"type":"quantitative"},"y":{"datum":5.335,"type":"quantitative"}}}
]},
{"data":{"name":"chg"},"transform":[{"filter":"datum.p==='BC'"}],
"layer":[
{"mark":{"type":"line","color":"#ff0000","strokeWidth":1,"strokeDash":[11,7],"clip":true},"encoding":{"x":{"field":"day","type":"quantitative"},"y":{"field":"r","type":"quantitative","scale":{"domain":[-200,100],"nice":false,"zero":false},"axis":{"orient":"right","title":["Volume change","(k m³)"],"titleAngle":270,"titleBaseline":"top","titlePadding":-7,"values":[-200,-100,0,100],"format":"d","grid":false,"tickCount":20,"labelOverlap":false}}}},
{"mark":{"type":"line","color":"#008000","strokeWidth":1,"strokeDash":[11,7],"clip":true},"encoding":{"x":{"field":"day","type":"quantitative"},"y":{"field":"g","type":"quantitative"}}}
]}
]},
{"width":718,"height":119.5,"data":{"name":"hs"},
"mark":{"type":"line","color":"#0000ff","strokeWidth":1,"clip":true},
"encoding":{"x":{"field":"d","type":"quantitative","scale":{"domain":[0,1167],"nice":false,"zero":false},"axis":{"values":[0,182,366,547,731,912,1096],"labelExpr":"datum.value==0?'Jan12':datum.value==182?'Jul12':datum.value==366?'Jan13':datum.value==547?'Jul13':datum.value==731?'Jan14':datum.value==912?'Jul14':'Jan15'","grid":true,"title":"Time (mo−yr)","titleFontSize":25,"labelPadding":16,"titlePadding":2,"tickCount":20,"labelOverlap":false}},
"y":{"field":"h","type":"quantitative","scale":{"domain":[0,5],"nice":false,"zero":false},"axis":{"title":"Hₛ (m)","values":[0,1,2,3,4,5],"labelExpr":"''+datum.value","grid":true,"tickCount":20,"labelOverlap":false}}}}
]
}
